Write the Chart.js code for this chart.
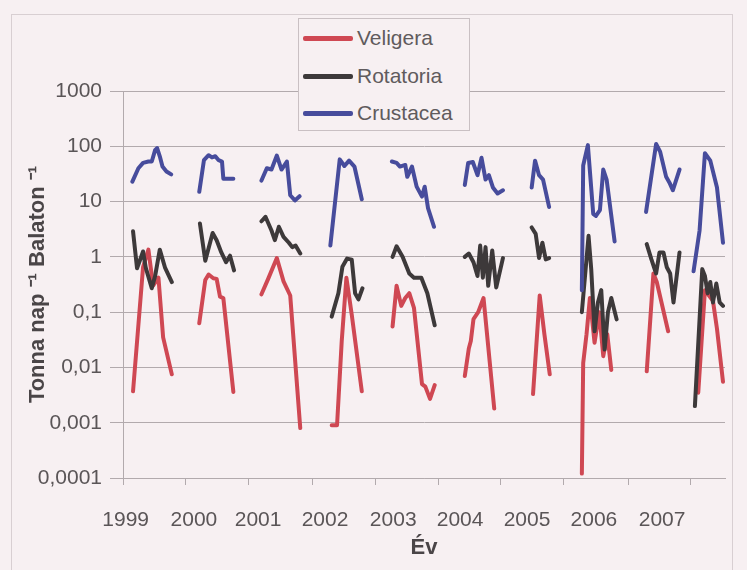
<!DOCTYPE html>
<html>
<head>
<meta charset="utf-8">
<script src="https://cdn.jsdelivr.net/npm/chart.js@4.4.1/dist/chart.umd.min.js"></script>
<style>
  html, body { margin: 0; padding: 0; background: #f7f0f2; }
  #wrap { position: relative; width: 747px; height: 570px; overflow: hidden; }
  #frame { position: absolute; left: 11px; top: 14px; width: 722px; height: 570px; border: 1px solid #d8cfd2; box-sizing: border-box; }
  #legend { position: absolute; left: 298px; top: 18px; width: 172px; height: 113px; border: 1px solid #c9c0c3;
            background: #f7f0f2; box-sizing: border-box; font-family: 'Liberation Sans', Arial, sans-serif;
            font-size: 21px; color: #605b5d; }
  .item { position: absolute; left: 4px; height: 24px; line-height: 24px; white-space: nowrap; }
  .swatch { display: inline-block; width: 50px; height: 5px; border-radius: 2px; vertical-align: middle; margin-right: 4px; position: relative; top: -1px; }
</style>
</head>
<body>
<div id="wrap">
  <div id="frame"></div>
  <canvas id="chart" width="747" height="570"></canvas>
  <div id="legend"></div>
</div>
<script>
// --- Data ---
const seriesNames = ['Veligera', 'Rotatoria', 'Crustacea'];
const seriesColors = ['#cf4853', '#3d393a', '#474c9c'];

const yTickVals = [0.0001, 0.001, 0.01, 0.1, 1, 10, 100, 1000];
const yTickLabels = ['0,0001', '0,001', '0,01', '0,1', '1', '10', '100', '1000'];

const yearLabels = ['1999', '2000', '2001', '2002', '2003', '2004', '2005', '2006', '2007'];
const yearLabelPos = [1999.04, 2000.06, 2001.02, 2002.02, 2003.04, 2004.04, 2005.04, 2006.04, 2007.06];
const tickMarkPos = [1999, 1999.94, 2000.87, 2001.83, 2002.78, 2003.71, 2004.65, 2005.59, 2006.55, 2007.48];

// null separates the sampling seasons
const veligeraT = [
  1999.15, 1999.30, 1999.38, 1999.45, 1999.53, 1999.60, 1999.73, null,
  2000.14, 2000.23, 2000.28, 2000.35, 2000.40, 2000.45, 2000.50, 2000.65, null,
  2001.07, 2001.17, 2001.30, 2001.40, 2001.50, 2001.65, null,
  2002.12, 2002.20, 2002.27, 2002.34, 2002.42, 2002.57, null,
  2003.03, 2003.09, 2003.16, 2003.22, 2003.28, 2003.35, 2003.47, 2003.52, 2003.59, 2003.66, null,
  2004.11, 2004.17, 2004.20, 2004.24, 2004.31, 2004.39, 2004.55, null,
  2005.13, 2005.23, 2005.30, 2005.38, null,
  2005.86, 2005.88, 2005.93, 2005.98, 2006.05, 2006.12, 2006.18, 2006.24, 2006.30, null,
  2006.83, 2006.93, 2006.98, 2007.15, null,
  2007.60, 2007.70, 2007.76, 2007.82, 2007.88, 2007.97
];
const veligeraV = [
  0.0037, 0.65, 1.35, 0.3, 0.42, 0.035, 0.0075, null,
  0.063, 0.38, 0.48, 0.41, 0.40, 0.19, 0.18, 0.0036, null,
  0.21, 0.4, 0.95, 0.36, 0.2, 0.0008, null,
  0.0009, 0.0009, 0.03, 0.42, 0.09, 0.0037, null,
  0.055, 0.3, 0.13, 0.18, 0.22, 0.12, 0.005, 0.0045, 0.0027, 0.0048, null,
  0.007, 0.022, 0.03, 0.075, 0.1, 0.18, 0.0018, null,
  0.0033, 0.2, 0.04, 0.0075, null,
  0.00012, 0.012, 0.04, 0.18, 0.028, 0.1, 0.016, 0.04, 0.009, null,
  0.0085, 0.5, 0.35, 0.045, null,
  0.0035, 0.25, 0.2, 0.16, 0.05, 0.0055
];

const rotatoriaT = [
  1999.15, 1999.21, 1999.30, 1999.34, 1999.43, 1999.48, 1999.55, 1999.63, 1999.73, null,
  2000.15, 2000.23, 2000.34, 2000.40, 2000.47, 2000.54, 2000.60, 2000.66, null,
  2001.07, 2001.13, 2001.22, 2001.27, 2001.33, 2001.40, 2001.48, 2001.53, 2001.58, 2001.65, null,
  2002.12, 2002.22, 2002.28, 2002.35, 2002.42, 2002.47, 2002.52, 2002.58, null,
  2003.03, 2003.09, 2003.18, 2003.28, 2003.35, 2003.46, 2003.55, 2003.66, null,
  2004.11, 2004.17, 2004.24, 2004.30, 2004.34, 2004.38, 2004.42, 2004.46, 2004.52, 2004.58, 2004.68, null,
  2005.11, 2005.17, 2005.22, 2005.27, 2005.32, 2005.37, null,
  2005.86, 2005.96, 2006.00, 2006.05, 2006.10, 2006.15, 2006.20, 2006.25, 2006.30, 2006.38, null,
  2006.83, 2006.90, 2006.97, 2007.02, 2007.08, 2007.13, 2007.18, 2007.23, 2007.32, null,
  2007.55, 2007.66, 2007.70, 2007.74, 2007.78, 2007.82, 2007.87, 2007.92, 2007.97
];
const rotatoriaV = [
  2.9, 0.62, 1.25, 0.64, 0.27, 0.45, 1.35, 0.63, 0.35, null,
  4.0, 0.85, 2.7, 2.0, 1.2, 0.8, 1.05, 0.57, null,
  4.4, 5.3, 3.0, 2.0, 3.5, 2.3, 1.8, 1.5, 1.6, 1.15, null,
  0.083, 0.22, 0.66, 0.93, 0.89, 0.22, 0.17, 0.27, null,
  1.0, 1.55, 1.0, 0.5, 0.42, 0.42, 0.22, 0.058, null,
  1.0, 1.15, 0.8, 0.45, 1.6, 0.42, 1.5, 0.3, 1.3, 0.28, 0.95, null,
  3.4, 2.6, 0.95, 1.8, 0.9, 0.95, null,
  0.1, 2.4, 0.6, 0.045, 0.15, 0.25, 0.021, 0.1, 0.18, 0.074, null,
  1.7, 0.9, 0.5, 1.2, 1.2, 0.65, 0.5, 0.15, 1.2, null,
  0.002, 0.6, 0.45, 0.22, 0.35, 0.15, 0.33, 0.15, 0.13
];

const crustaceaT = [
  1999.14, 1999.23, 1999.30, 1999.38, 1999.43, 1999.48, 1999.51, 1999.55, 1999.59, 1999.65, 1999.72, null,
  2000.14, 2000.21, 2000.28, 2000.33, 2000.38, 2000.43, 2000.48, 2000.50, 2000.65, null,
  2001.07, 2001.15, 2001.22, 2001.30, 2001.37, 2001.45, 2001.50, 2001.57, 2001.64, null,
  2002.10, 2002.24, 2002.31, 2002.38, 2002.46, 2002.57, null,
  2003.02, 2003.09, 2003.14, 2003.22, 2003.25, 2003.32, 2003.39, 2003.47, 2003.51, 2003.56, 2003.65, null,
  2004.11, 2004.16, 2004.23, 2004.30, 2004.36, 2004.42, 2004.47, 2004.53, 2004.60, 2004.68, null,
  2005.11, 2005.16, 2005.22, 2005.28, 2005.37, null,
  2005.86, 2005.88, 2005.95, 2006.03, 2006.07, 2006.13, 2006.18, 2006.23, 2006.35, null,
  2006.82, 2006.97, 2007.03, 2007.12, 2007.17, 2007.22, 2007.32, null,
  2007.53, 2007.62, 2007.70, 2007.78, 2007.88, 2007.97
];
const crustaceaV = [
  23, 40, 50, 53, 53, 85, 93, 66, 43, 35, 31, null,
  15, 56, 69, 63, 66, 56, 53, 26, 26, null,
  24, 40, 38, 68, 38, 53, 13, 10.5, 12.5, null,
  1.6, 58, 44, 55, 43, 11, null,
  53, 50, 43, 46, 28, 43, 18.6, 12.3, 18.6, 7.6, 3.5, null,
  20, 50, 52, 30, 62, 25, 30, 18, 14, 16, null,
  18, 55, 30, 25, 8, null,
  0.25, 45, 105, 6, 5.5, 7, 38, 25, 1.9, null,
  6.5, 110, 80, 28, 22, 16, 38, null,
  0.55, 3, 75, 55, 18, 1.8
];

// --- Build ---
function toPoints(ts, vs) {
  return ts.map((t, i) => ({ x: t === null ? ts[i - 1] : t, y: vs[i] }));
}

const font = { family: "'Liberation Sans', Arial, sans-serif", size: 21 };
const boldFont = { family: "'Liberation Sans', Arial, sans-serif", size: 22, weight: 'bold' };
const gridColor = '#b2aaad';

const seriesData = [
  toPoints(veligeraT, veligeraV),
  toPoints(rotatoriaT, rotatoriaV),
  toPoints(crustaceaT, crustaceaV)
];

const datasets = seriesNames.map((name, i) => ({
  label: name,
  data: seriesData[i],
  borderColor: seriesColors[i],
  backgroundColor: seriesColors[i],
  borderWidth: 4,
  borderJoinStyle: 'round',
  borderCapStyle: 'round',
  pointRadius: 0,
  tension: 0,
  spanGaps: false,
  order: 2 - i
}));

const chart = new Chart(document.getElementById('chart'), {
  type: 'line',
  data: { datasets },
  options: {
    responsive: false,
    animation: false,
    devicePixelRatio: 1,
    layout: { padding: { left: 0, top: 91, right: 22, bottom: 0 } },
    plugins: { legend: { display: false }, tooltip: { enabled: false } },
    scales: {
      x: {
        type: 'linear', min: 1999, max: 2008, position: 'bottom', weight: 0,
        afterBuildTicks: s => { s.ticks = tickMarkPos.map(v => ({ value: v })); },
        afterFit: s => { s.height = 7; },
        ticks: { display: false },
        grid: { drawOnChartArea: false, drawTicks: true, tickLength: 7, color: gridColor },
        border: { display: true, color: gridColor }
      },
      xLab: {
        type: 'linear', min: 1999, max: 2008, position: 'bottom', weight: 1,
        afterBuildTicks: s => { s.ticks = yearLabelPos.map(v => ({ value: v })); },
        afterFit: s => { s.height = 85; },
        ticks: {
          autoSkip: false, maxRotation: 0, padding: 15, font, color: '#5a5557',
          callback: (v, i) => yearLabels[i]
        },
        grid: { display: false },
        border: { display: false },
        title: { display: true, text: 'Év', font: boldFont, color: '#4a4547', padding: { top: 4, bottom: 9 } }
      },
      y: {
        type: 'logarithmic', min: 0.0001, max: 1000,
        afterBuildTicks: s => { s.ticks = yTickVals.map(v => ({ value: v })); },
        afterFit: s => { s.width = 123; },
        ticks: { font, color: '#5a5557', padding: 8, callback: (v, i) => yTickLabels[i] },
        grid: { color: gridColor, tickLength: 13 },
        border: { display: true, color: gridColor },
        title: { display: true, text: 'Tonna nap ⁻¹ Balaton ⁻¹', font: boldFont, color: '#4a4547', padding: { top: 25, bottom: 4 } }
      }
    }
  }
});

// legend overlay, built from the chart's datasets
const legendEl = document.getElementById('legend');
const itemTops = [7, 45, 82];
chart.data.datasets.forEach((ds, i) => {
  const item = document.createElement('div');
  item.className = 'item';
  item.style.top = itemTops[i] + 'px';
  const sw = document.createElement('span');
  sw.className = 'swatch';
  sw.style.background = ds.borderColor;
  item.appendChild(sw);
  item.appendChild(document.createTextNode(ds.label));
  legendEl.appendChild(item);
});
</script>
</body>
</html>
